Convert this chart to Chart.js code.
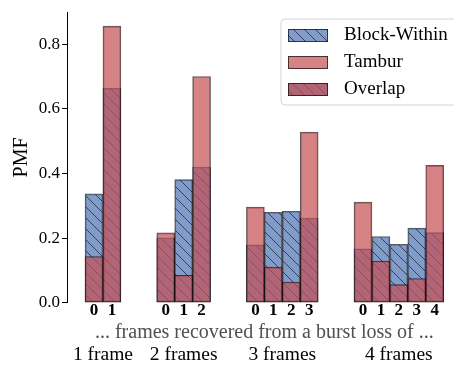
<!DOCTYPE html>
<html><head><meta charset="utf-8">
<script src="https://cdn.jsdelivr.net/npm/chart.js@4/dist/chart.umd.min.js"></script>
<style>html,body{margin:0;padding:0;overflow:hidden;background:#fff;width:454px;height:365px}canvas{display:block}</style>
</head><body>
<canvas id="c" width="470" height="365"></canvas>
<script>
// ---- data ----
const groupNames = ['1 frame', '2 frames', '3 frames', '4 frames'];
const tickLabels = [['0','1'], ['0','1','2'], ['0','1','2','3'], ['0','1','2','3','4']];
const blockWithin = [[0.337, 0.664], [0.201, 0.381, 0.420], [0.179, 0.280, 0.283, 0.262], [0.167, 0.205, 0.181, 0.231, 0.217]];
const tambur = [[0.143, 0.856], [0.216, 0.085, 0.700], [0.296, 0.110, 0.064, 0.528], [0.311, 0.129, 0.056, 0.075, 0.425]];
const legendLabels = ['Block-Within', 'Tambur', 'Overlap'];
const xTitle = '... frames recovered from a burst loss of ...';
const yTitle = 'PMF';
const yTicks = [0.0, 0.2, 0.4, 0.6, 0.8];

// ---- build slot arrays (gaps between groups are empty categories) ----
const labels = [''], bwData = [null], tbData = [null], groupSlots = [];
groupNames.forEach((g, gi) => {
  const start = labels.length;
  tickLabels[gi].forEach((t, i) => { labels.push(t); bwData.push(blockWithin[gi][i]); tbData.push(tambur[gi][i]); });
  groupSlots.push([start, labels.length - 1]);
  if (gi < groupNames.length - 1) { for (let k = 0; k < 2; k++) { labels.push(''); bwData.push(null); tbData.push(null); } }
});
labels.push(''); bwData.push(null); tbData.push(null);

const FONT = 'Liberation Serif';
const BLUE = 'rgba(76,114,176,0.7)';
const RED = 'rgba(196,78,82,0.7)';
const EDGE = 'rgba(0,0,0,0.65)';

function hatch(fill) {
  const s = 11, c = document.createElement('canvas');
  c.width = s; c.height = s;
  const x = c.getContext('2d');
  x.fillStyle = fill; x.fillRect(0, 0, s, s);
  x.strokeStyle = 'rgba(20,25,45,0.7)'; x.lineWidth = 1;
  for (const k of [-s, 0, s]) { x.beginPath(); x.moveTo(k, 0); x.lineTo(k + s, s); x.stroke(); }
  return x.createPattern(c, 'repeat');
}
const bwPattern = hatch(BLUE);

const extras = {
  id: 'extras',
  afterDraw(chart) {
    const ctx = chart.ctx, xs = chart.scales.x;
    ctx.save();
    // group labels
    ctx.fillStyle = '#000';
    ctx.font = '19.5px "' + FONT + '"';
    ctx.textAlign = 'center'; ctx.textBaseline = 'middle';
    groupSlots.forEach((sl, gi) => {
      const cx = (xs.getPixelForValue(sl[0]) + xs.getPixelForValue(sl[1])) / 2;
      ctx.fillText(groupNames[gi], cx, 355);
    });
    // legend
    const lx = 281, ly = 19, lw = 185, lh = 86, r = 4;
    ctx.beginPath();
    ctx.moveTo(lx + r, ly); ctx.lineTo(lx + lw - r, ly); ctx.arcTo(lx + lw, ly, lx + lw, ly + r, r);
    ctx.lineTo(lx + lw, ly + lh - r); ctx.arcTo(lx + lw, ly + lh, lx + lw - r, ly + lh, r);
    ctx.lineTo(lx + r, ly + lh); ctx.arcTo(lx, ly + lh, lx, ly + lh - r, r);
    ctx.lineTo(lx, ly + r); ctx.arcTo(lx, ly, lx + r, ly, r); ctx.closePath();
    ctx.fillStyle = 'rgba(255,255,255,0.8)'; ctx.fill();
    ctx.strokeStyle = 'rgb(210,210,210)'; ctx.lineWidth = 1; ctx.stroke();
    const rows = [35, 62.3, 89];
    ctx.font = '19px "' + FONT + '"';
    ctx.textAlign = 'left';
    rows.forEach((cy, i) => {
      const px = 288, pw = 40, ph = 13, py = Math.round(cy - ph / 2);
      if (i === 0 || i === 2) { ctx.fillStyle = bwPattern; ctx.fillRect(px, py, pw, ph); }
      if (i === 1 || i === 2) { ctx.fillStyle = RED; ctx.fillRect(px, py, pw, ph); }
      ctx.strokeStyle = EDGE; ctx.strokeRect(px + 0.5, py + 0.5, pw - 1, ph - 1);
      ctx.fillStyle = '#000';
      ctx.fillText(legendLabels[i], 344, cy);
    });
    ctx.restore();
  }
};

const common = { borderColor: EDGE, borderWidth: 1, borderSkipped: false, grouped: false, barPercentage: 1, categoryPercentage: 1 };

new Chart(document.getElementById('c'), {
  type: 'bar',
  data: {
    labels: labels,
    datasets: [
      Object.assign({ label: legendLabels[0], data: bwData, backgroundColor: bwPattern, order: 2 }, common),
      Object.assign({ label: legendLabels[1], data: tbData, backgroundColor: RED, order: 1 }, common)
    ]
  },
  options: {
    responsive: false, animation: false, devicePixelRatio: 1,
    layout: { padding: { left: 0, top: 8.3, right: 8.4, bottom: 0 } },
    plugins: { legend: { display: false }, tooltip: { enabled: false } },
    scales: {
      x: {
        type: 'category',
        grid: { display: false, drawTicks: false },
        border: { display: false },
        ticks: { autoSkip: false, maxRotation: 0, minRotation: 0, color: '#000', padding: -2,
                 font: { family: FONT, size: 17, weight: 'bold' } },
        title: { display: true, text: xTitle, color: '#505050', font: { family: FONT, size: 20 }, padding: { top: 0, bottom: 20 } },
        afterFit: s => { s.height = 62.3; }
      },
      y: {
        min: 0, max: 0.899,
        afterBuildTicks: s => { s.ticks = yTicks.map(v => ({ value: v })); },
        grid: { drawOnChartArea: false, drawTicks: true, tickLength: 5, color: '#000', lineWidth: 1 },
        border: { display: true, color: '#000', width: 1 },
        ticks: { color: '#000', padding: 2, font: { family: FONT, size: 17 }, callback: v => Number(v).toFixed(1) },
        title: { display: true, text: yTitle, color: '#000', font: { family: FONT, size: 20 }, padding: { top: 10, bottom: 0 } },
        afterFit: s => { s.width = 67.1; }
      }
    }
  },
  plugins: [extras]
});
</script>
</body></html>
